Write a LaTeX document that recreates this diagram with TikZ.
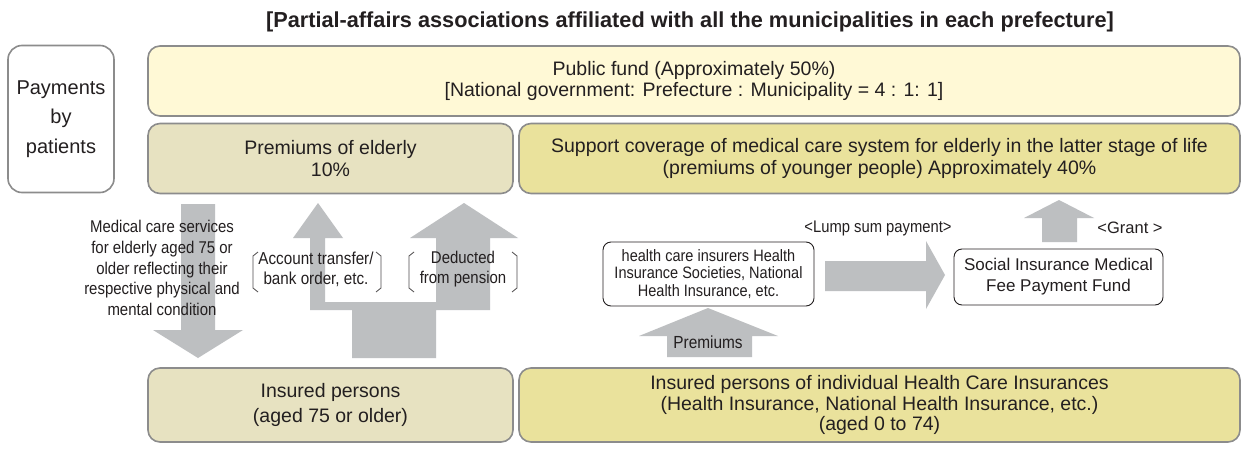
\documentclass[tikz,border=0pt]{standalone}
\usepackage{fontspec}
\setmainfont{Liberation Sans}
\newfontfamily\narrowfont[FakeStretch=0.88]{Liberation Sans}
\newcommand\fsz[2]{\fontsize{#1pt}{#2pt}\selectfont}
\definecolor{txt}{HTML}{231F20}
\definecolor{bord}{HTML}{8C8C8C}
\definecolor{pubfill}{HTML}{FFF9D6}
\definecolor{oldfill}{HTML}{E7E2C1}
\definecolor{youngfill}{HTML}{EAE29C}
\definecolor{arrgrey}{HTML}{BDBFC1}
\tikzset{
  bigbox/.style={draw=bord, line width=1.6pt, rounded corners=12pt, inner sep=0pt, align=center, text=txt},
  smallbox/.style={draw=txt, line width=0.9pt, rounded corners=8pt, fill=white, inner sep=0pt, align=center, text=txt},
  blockarrow/.style={fill=arrgrey, draw=none},
  lbl/.style={inner sep=0pt, align=center, text=txt},
  brk/.style={draw=txt!80, line width=0.8pt},
}
\begin{document}
\begin{tikzpicture}[x=1pt,y=-1pt]
\useasboundingbox (0,0) rectangle (1247,450);
\fill[white] (0,0) rectangle (1247,450);

% title
\node[lbl, font=\bfseries\fsz{21.7}{24}] (title) at (690,22) {[Partial-affairs associations affiliated with all the municipalities in each prefecture]};

% main boxes
\node[bigbox, fill=white, minimum width=106pt, minimum height=147pt, rounded corners=14pt, font=\fsz{20}{29.5}] (pay) at (61,119) {Payments\\by\\patients};
\node[bigbox, fill=pubfill, minimum width=1092pt, minimum height=70pt, font=\fsz{19.5}{21}] (pub) at (694,81) {Public fund (Approximately 50\%)\\{}[National government: Prefecture : Municipality = 4 : 1: 1]};
\node[bigbox, fill=oldfill, minimum width=365pt, minimum height=70pt, font=\fsz{19.5}{22}] (prem) at (330.5,158.5) {Premiums of elderly\\10\%};
\node[bigbox, fill=youngfill, minimum width=721pt, minimum height=70pt, font=\fsz{19.5}{22}] (supp) at (879.5,158.5) {Support coverage of medical care system for elderly in the latter stage of life\\(premiums of younger people) Approximately 40\%};
\node[bigbox, fill=oldfill, minimum width=365pt, minimum height=74pt, font=\fsz{19.5}{25}] (ins) at (330.5,405) {Insured persons\\(aged 75 or older)};
\node[bigbox, fill=youngfill, minimum width=721pt, minimum height=74pt, font=\fsz{19.5}{20.5}] (ind) at (879.5,405) {Insured persons of individual Health Care Insurances\\(Health Insurance, National Health Insurance, etc.)\\(aged 0 to 74)};

% block arrows
\fill[blockarrow] (181,204) -- (215,204) -- (215,330) -- (243,330) -- (198,358) -- (153,330) -- (181,330) -- cycle;
\fill[blockarrow] (352,358) -- (352,310) -- (310,310) -- (310,238) -- (293,238) -- (318,203) -- (343,238) -- (325,238) -- (325,302) -- (436,302) -- (436,238) -- (410,238) -- (464,203) -- (518,238) -- (490,238) -- (490,310) -- (436,310) -- (436,358) -- cycle;
\fill[blockarrow] (667,357) -- (667,336) -- (639,336) -- (708,308) -- (778,336) -- (752,336) -- (752,357) -- cycle;
\fill[blockarrow] (825,261) -- (926,261) -- (926,241) -- (945,275) -- (926,309) -- (926,291) -- (825,291) -- cycle;
\fill[blockarrow] (1042,242) -- (1042,218) -- (1024,218) -- (1059,200) -- (1094,218) -- (1077,218) -- (1077,242) -- cycle;

% small boxes
\node[smallbox, minimum width=211pt, minimum height=64pt, font=\narrowfont\fsz{16.5}{17.8}] (hci) at (708.5,274) {health care insurers Health\\Insurance Societies, National\\Health Insurance, etc.};
\node[smallbox, minimum width=209pt, minimum height=56pt, font=\fsz{17}{21}] (sif) at (1058.5,277) {Social Insurance Medical\\Fee Payment Fund};

% labels
\node[lbl, font=\narrowfont\fsz{17}{20.7}] (med) at (162,268) {Medical care services\\for elderly aged 75 or\\older reflecting their\\respective physical and\\mental condition};
\node[lbl, font=\narrowfont\fsz{17.3}{20}] (acct) at (316,269) {Account transfer/\\bank order, etc.};
\node[lbl, font=\narrowfont\fsz{17}{20}] (ded) at (463,269) {Deducted\\from pension};
\node[lbl, font=\narrowfont\fsz{16.8}{18}] (lump) at (878,228) {<Lump sum payment>};
\node[lbl, font=\fsz{16.5}{18}] (grant) at (1130,228) {<Grant >};
\node[lbl, font=\narrowfont\fsz{17.5}{20}] (prm) at (708,342) {Premiums};

% brackets
\draw[brk] (258,252) -- (253,256) -- (253,288) -- (258,292);
\draw[brk] (376,252) -- (381,256) -- (381,288) -- (376,292);
\draw[brk] (414,252) -- (409,256) -- (409,288) -- (414,292);
\draw[brk] (512,252) -- (517,256) -- (517,288) -- (512,292);
\end{tikzpicture}
\end{document}
